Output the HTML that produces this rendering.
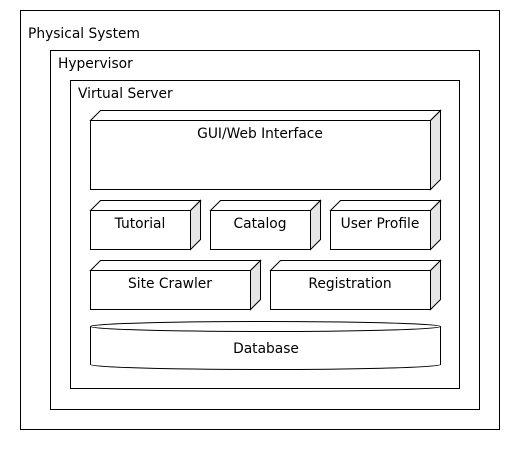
<!DOCTYPE html>
<html><head><style>body{margin:0;background:#fff}svg{display:block}</style></head><body>
<svg width="520" height="450" xmlns="http://www.w3.org/2000/svg" font-family="DejaVu Sans, sans-serif" font-size="13.8" fill="#000">
<rect x="0" y="0" width="520" height="450" fill="#fff"/>
<g fill="#fff" stroke="#000" stroke-width="1">
<rect x="20.5" y="10.5" width="479" height="419"/>
<rect x="50.5" y="50.5" width="429" height="359"/>
<rect x="70.5" y="80.5" width="389" height="308"/>
</g>
<text x="28" y="38">Physical System</text>
<text x="58" y="68">Hypervisor</text>
<text x="78" y="98">Virtual Server</text>
<g stroke="#000" stroke-width="1">
<path d="M90.5 120.5 L100.5 110.5 L440.5 110.5 L430.5 120.5 Z" fill="#fff"/>
<path d="M430.5 120.5 L440.5 110.5 L440.5 179.5 L430.5 189.5 Z" fill="#e6e6e6"/>
<rect x="90.5" y="120.5" width="340" height="69" fill="#fff"/>

<path d="M90.5 210.5 L100.5 200.5 L200.5 200.5 L190.5 210.5 Z" fill="#fff"/>
<path d="M190.5 210.5 L200.5 200.5 L200.5 239.5 L190.5 249.5 Z" fill="#e6e6e6"/>
<rect x="90.5" y="210.5" width="100" height="39" fill="#fff"/>

<path d="M210.5 210.5 L220.5 200.5 L320.5 200.5 L310.5 210.5 Z" fill="#fff"/>
<path d="M310.5 210.5 L320.5 200.5 L320.5 239.5 L310.5 249.5 Z" fill="#e6e6e6"/>
<rect x="210.5" y="210.5" width="100" height="39" fill="#fff"/>

<path d="M330.5 210.5 L340.5 200.5 L440.5 200.5 L430.5 210.5 Z" fill="#fff"/>
<path d="M430.5 210.5 L440.5 200.5 L440.5 239.5 L430.5 249.5 Z" fill="#e6e6e6"/>
<rect x="330.5" y="210.5" width="100" height="39" fill="#fff"/>

<path d="M90.5 270.5 L100.5 260.5 L260.5 260.5 L250.5 270.5 Z" fill="#fff"/>
<path d="M250.5 270.5 L260.5 260.5 L260.5 299.5 L250.5 309.5 Z" fill="#e6e6e6"/>
<rect x="90.5" y="270.5" width="160" height="39" fill="#fff"/>

<path d="M270.5 270.5 L280.5 260.5 L440.5 260.5 L430.5 270.5 Z" fill="#fff"/>
<path d="M430.5 270.5 L440.5 260.5 L440.5 299.5 L430.5 309.5 Z" fill="#e6e6e6"/>
<rect x="270.5" y="270.5" width="160" height="39" fill="#fff"/>

<path d="M90.5 326.5 L90.5 364.5 A175 5 0 0 0 440.5 364.5 L440.5 326.5" fill="#fff"/>
<ellipse cx="265.5" cy="326.5" rx="175" ry="5" fill="#fff"/>
</g>
<g text-anchor="middle">
<text x="260" y="138">GUI/Web Interface</text>
<text x="140" y="228">Tutorial</text>
<text x="260" y="228">Catalog</text>
<text x="380" y="228">User Profile</text>
<text x="170" y="288">Site Crawler</text>
<text x="350" y="288">Registration</text>
<text x="266" y="353">Database</text>
</g>
</svg>
</body></html>
